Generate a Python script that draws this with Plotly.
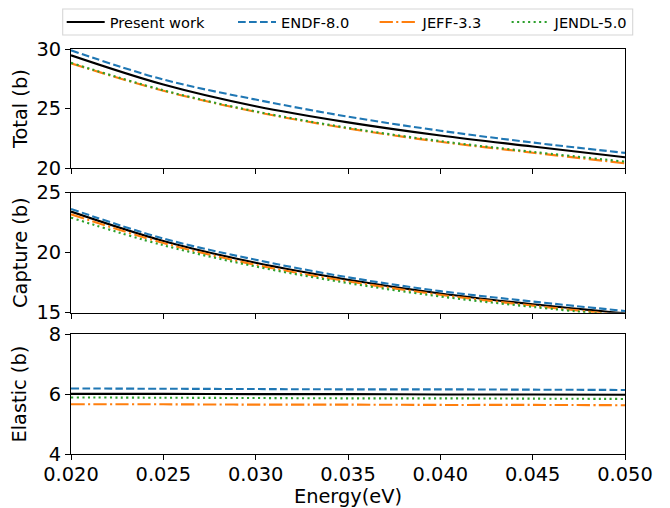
import plotly.graph_objects as go

# ---- data ----
energy = [0.020, 0.025, 0.030, 0.035, 0.040, 0.045, 0.050]

total_present = [29.47, 27.02, 25.20, 23.85, 22.75, 21.83, 20.93]
total_endf = [29.89, 27.44, 25.76, 24.33, 23.15, 22.16, 21.29]
total_jeff = [28.80, 26.50, 24.73, 23.34, 22.22, 21.31, 20.42]
total_jendl = [28.84, 26.54, 24.77, 23.39, 22.28, 21.38, 20.56]

capture_present = [23.43, 20.98, 19.16, 17.75, 16.60, 15.70, 14.94]
capture_endf = [23.65, 21.18, 19.41, 17.95, 16.80, 15.93, 15.14]
capture_jeff = [23.20, 20.81, 18.99, 17.61, 16.49, 15.59, 14.78]
capture_jendl = [22.92, 20.62, 18.85, 17.47, 16.35, 15.48, 14.72]

elastic_present = [6.01, 6.01, 6.00, 6.00, 5.99, 5.99, 5.98]
elastic_endf = [6.19, 6.18, 6.17, 6.16, 6.16, 6.15, 6.14]
elastic_jeff = [5.66, 5.66, 5.65, 5.65, 5.64, 5.64, 5.63]
elastic_jendl = [5.89, 5.88, 5.87, 5.86, 5.86, 5.85, 5.84]

series_names = ["Present work", "ENDF-8.0", "JEFF-3.3", "JENDL-5.0"]
x_ticks = [0.020, 0.025, 0.030, 0.035, 0.040, 0.045, 0.050]

# ---- styles ----
colors = ["#000000", "#1f77b4", "#ff7f0e", "#2ca02c"]
dashes = ["solid", "7.7px,3.3px", "13.3px,3.3px,2.1px,3.3px", "2.1px,3.4px"]
FONT = "DejaVu Sans"
TICK_SIZE = 19.4
LEG_SIZE = 14.6

# layout geometry (pixels)
W, H = 670, 508
ML, MR, MT, MB = 71, 45, 49, 54
PW = W - ML - MR
PH = H - MT - MB


def px_x(px):
    return (px - ML) / PW


def px_y(py):
    return (H - MB - py) / PH


legend_ids = ["legend", "legend2", "legend3", "legend4"]
legend_px = [61.7, 233.0, 374.6, 506.6]

panels = [
    ("y", "x", [total_present, total_endf, total_jeff, total_jendl]),
    ("y2", "x2", [capture_present, capture_endf, capture_jeff, capture_jendl]),
    ("y3", "x3", [elastic_present, elastic_endf, elastic_jeff, elastic_jendl]),
]

fig = go.Figure()
for p, (ya, xa, data) in enumerate(panels):
    for i, vals in enumerate(data):
        fig.add_trace(go.Scatter(
            x=energy, y=vals, mode="lines", name=series_names[i],
            xaxis=xa, yaxis=ya,
            line=dict(color=colors[i], width=2.1, dash=dashes[i], shape="spline", smoothing=1.0),
            showlegend=(p == 0), legend=legend_ids[i],
        ))

axis_common = dict(
    showline=True, linecolor="black", linewidth=1.1, mirror=True,
    ticks="outside", ticklen=5, tickwidth=1.1, tickcolor="black",
    showgrid=False, zeroline=False,
    tickfont=dict(family=FONT, size=TICK_SIZE, color="black"),
    title_font=dict(family=FONT, size=TICK_SIZE, color="black"),
)

xcommon = dict(axis_common, range=[0.020, 0.050], tickvals=x_ticks, tickformat=".3f")

legends = {}
for lid, lx in zip(legend_ids, legend_px):
    legends[lid] = dict(
        orientation="h", x=px_x(lx), y=px_y(22), xanchor="left", yanchor="middle",
        font=dict(family=FONT, size=LEG_SIZE, color="black"),
        bgcolor="rgba(0,0,0,0)", borderwidth=0, itemwidth=38,
    )

fig.update_layout(
    width=W, height=H,
    margin=dict(l=ML, r=MR, t=MT, b=MB, autoexpand=False),
    paper_bgcolor="white", plot_bgcolor="white",
    font=dict(family=FONT, color="black"),
    xaxis=dict(xcommon, domain=[0, 1], anchor="y", showticklabels=False),
    xaxis2=dict(xcommon, domain=[0, 1], anchor="y2", showticklabels=False, matches="x"),
    xaxis3=dict(xcommon, domain=[0, 1], anchor="y3", matches="x", ticklabelstandoff=-2,
                title=dict(text="Energy(eV)", standoff=7)),
    yaxis=dict(axis_common, domain=[px_y(168.3), 1.0], anchor="x", range=[20, 30],
               tickvals=[20, 25, 30], title=dict(text="Total (b)", standoff=3)),
    yaxis2=dict(axis_common, domain=[px_y(312.7), px_y(192.7)], anchor="x2", range=[15, 25],
                tickvals=[15, 20, 25], title=dict(text="Capture (b)", standoff=3)),
    yaxis3=dict(axis_common, domain=[0.0, px_y(334.3)], anchor="x3", range=[4, 8],
                tickvals=[4, 6, 8], title=dict(text="Elastic (b)", standoff=16)),
    shapes=[dict(
        type="rect", xref="paper", yref="paper",
        x0=px_x(62.7), x1=px_x(632.7), y0=px_y(35), y1=px_y(9),
        line=dict(color="#d6d6d6", width=1.1), fillcolor="white", layer="below",
    )],
    **legends,
)

fig.write_html(
    "out.html",
    config={"displayModeBar": False},
    post_script="document.body.style.margin='0';document.body.style.overflow='hidden';",
)
